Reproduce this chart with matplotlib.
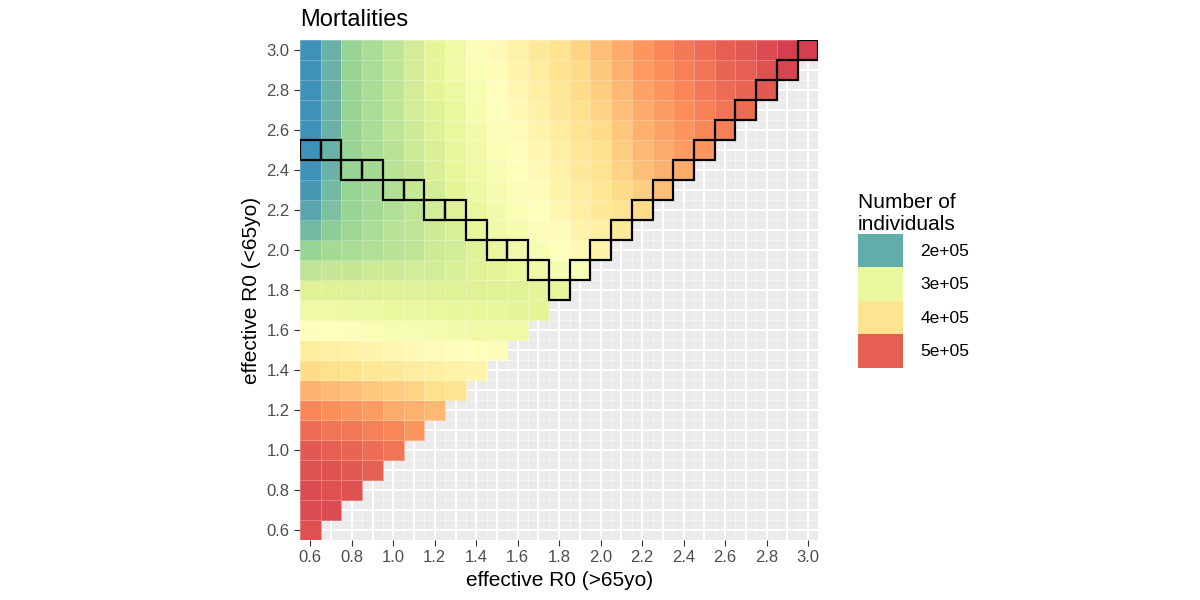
import numpy as np
import matplotlib
matplotlib.use("Agg")
import matplotlib.pyplot as plt
from matplotlib.colors import LinearSegmentedColormap, Normalize
from matplotlib.patches import Rectangle, Patch

r0_old = [round(0.6 + 0.1*i, 1) for i in range(25)]   # x: >65yo
r0_young = r0_old[:]                                  # y: <65yo

# mortality values (x 1e5) per row y (from 3.0 down to 0.6), x from 0.6 up to y
rows = {
3.0: [1.8,2.05,2.3,2.45,2.6,2.75,2.9,3.1,3.4,3.6,3.75,3.9,4.0,4.15,4.3,4.45,4.6,4.7,4.8,4.9,5.0,5.05,5.15,5.25,5.35],
2.9: [1.8,2.05,2.3,2.45,2.6,2.75,2.9,3.1,3.35,3.55,3.7,3.85,4.0,4.1,4.25,4.4,4.55,4.65,4.75,4.85,4.95,5.0,5.1,5.2],
2.8: [1.8,2.05,2.3,2.45,2.6,2.75,2.9,3.05,3.3,3.5,3.65,3.8,3.95,4.1,4.2,4.35,4.5,4.6,4.7,4.8,4.9,4.95,5.05],
2.7: [1.8,2.05,2.3,2.45,2.6,2.75,2.85,3.0,3.25,3.45,3.6,3.75,3.9,4.05,4.15,4.3,4.45,4.55,4.65,4.75,4.85,4.9],
2.6: [1.8,2.05,2.3,2.45,2.6,2.7,2.85,3.0,3.2,3.4,3.55,3.7,3.85,4.0,4.1,4.25,4.4,4.5,4.6,4.7,4.75],
2.5: [1.8,2.05,2.3,2.45,2.55,2.7,2.8,2.95,3.15,3.35,3.5,3.65,3.8,3.95,4.05,4.2,4.35,4.45,4.55,4.6],
2.4: [1.8,2.05,2.3,2.4,2.55,2.65,2.8,2.95,3.1,3.3,3.45,3.6,3.75,3.9,4.0,4.15,4.3,4.4,4.45],
2.3: [1.85,2.1,2.3,2.4,2.5,2.65,2.75,2.9,3.05,3.25,3.4,3.55,3.7,3.85,3.95,4.1,4.2,4.3],
2.2: [1.95,2.15,2.3,2.4,2.5,2.6,2.75,2.85,3.0,3.2,3.35,3.5,3.65,3.8,3.9,4.0,4.1],
2.1: [2.1,2.25,2.35,2.45,2.55,2.6,2.7,2.8,2.95,3.1,3.25,3.4,3.55,3.7,3.8,3.9],
2.0: [2.3,2.4,2.45,2.5,2.55,2.6,2.7,2.75,2.85,3.0,3.15,3.3,3.45,3.6,3.7],
1.9: [2.6,2.65,2.65,2.7,2.7,2.75,2.75,2.8,2.85,2.9,3.0,3.1,3.25,3.35],
1.8: [2.85,2.85,2.85,2.85,2.85,2.85,2.85,2.85,2.85,2.85,2.85,2.9,2.95],
1.7: [3.1,3.1,3.05,3.05,3.0,3.0,3.0,2.95,2.95,2.95,2.9,2.9],
1.6: [3.5,3.45,3.4,3.35,3.3,3.3,3.25,3.2,3.15,3.1,3.1],
1.5: [3.85,3.8,3.75,3.7,3.65,3.6,3.55,3.5,3.45,3.4],
1.4: [4.1,4.05,4.0,3.95,3.9,3.85,3.8,3.75,3.7],
1.3: [4.4,4.35,4.3,4.25,4.2,4.15,4.05,4.0],
1.2: [4.7,4.65,4.6,4.55,4.45,4.4,4.35],
1.1: [4.9,4.85,4.8,4.75,4.7,4.6],
1.0: [5.05,5.0,4.95,4.9,4.85],
0.9: [5.1,5.1,5.05,5.0],
0.8: [5.15,5.1,5.1],
0.7: [5.15,5.15],
0.6: [5.1],
}

# outlined cell (minimum) per x column
outline_x = [0.6,0.7,0.8,0.9,1.0,1.1,1.2,1.3,1.4,1.5,1.6,1.7,1.8,1.9,2.0,2.1,2.2,2.3,2.4,2.5,2.6,2.7,2.8,2.9,3.0]
outline_y = [2.5,2.5,2.4,2.4,2.3,2.3,2.2,2.2,2.1,2.0,2.0,1.9,1.8,1.9,2.0,2.1,2.2,2.3,2.4,2.5,2.6,2.7,2.8,2.9,3.0]

legend_vals = [2e5, 3e5, 4e5, 5e5]
legend_labels = ["2e+05", "3e+05", "4e+05", "5e+05"]

n = len(r0_old)
Z = np.full((n, n), np.nan)
for y, vals in rows.items():
    j = r0_young.index(y)
    for i, v in enumerate(vals):
        Z[j, i] = v * 1e5
Z = np.ma.masked_invalid(Z)

cmap = LinearSegmentedColormap.from_list("spec", ["#3288BD","#99D594","#E6F598","#FFFFBF","#FEE08B","#FC8D59","#D53E4F"])
norm = Normalize(vmin=1.72e5, vmax=5.25e5)

plt.rcParams['font.family'] = ['Liberation Sans', 'DejaVu Sans']
fig = plt.figure(figsize=(12, 6), dpi=100)
ax = fig.add_axes([0.25, 0.1, 0.432, 0.833])
ax.set_facecolor("#EBEBEB")
edges = np.arange(0.55, 3.06, 0.1)
ax.set_axisbelow(True)
ax.set_xticks(np.arange(0.6, 3.01, 0.2))
ax.set_yticks(np.arange(0.6, 3.01, 0.2))
ax.set_xticks(np.arange(0.7, 3.01, 0.2), minor=True)
ax.set_yticks(np.arange(0.7, 3.01, 0.2), minor=True)
ax.grid(True, which="both", color="white", lw=1.5)
ax.tick_params(which="minor", length=0)
ax.pcolormesh(edges, edges, Z, cmap=cmap, norm=norm, edgecolors=(1,1,1,0.25), linewidth=0.4, zorder=2)
for x, y in zip(outline_x, outline_y):
    ax.add_patch(Rectangle((x-0.05, y-0.05), 0.1, 0.1, fill=False, ec="black", lw=1.6, zorder=3))
ax.set_xlim(0.55, 3.05); ax.set_ylim(0.55, 3.05)
ax.set_xticklabels([f"{v:.1f}" for v in np.arange(0.6, 3.01, 0.2)])
ax.set_yticklabels([f"{v:.1f}" for v in np.arange(0.6, 3.01, 0.2)])
ax.tick_params(which="major", length=4, color="#333333", labelsize=12, labelcolor="#4D4D4D")
for s in ax.spines.values():
    s.set_visible(False)
ax.set_xlabel("effective R0 (>65yo)", fontsize=15)
ax.set_ylabel("effective R0 (<65yo)", fontsize=15)
ax.set_title("Mortalities", fontsize=17, loc="left", pad=10)

handles = [Patch(facecolor=cmap(norm(v)), edgecolor="none") for v in legend_vals]
leg = fig.legend(handles, legend_labels, loc="upper left", bbox_to_anchor=(0.702, 0.705),
                 title="Number of\nindividuals", frameon=False, fontsize=12.5,
                 title_fontsize=15, handlelength=2.6, handleheight=2.6, labelspacing=0.0,
                 handletextpad=1.0)
leg._legend_box.align = "left"
fig.savefig("out.png", dpi=100)
